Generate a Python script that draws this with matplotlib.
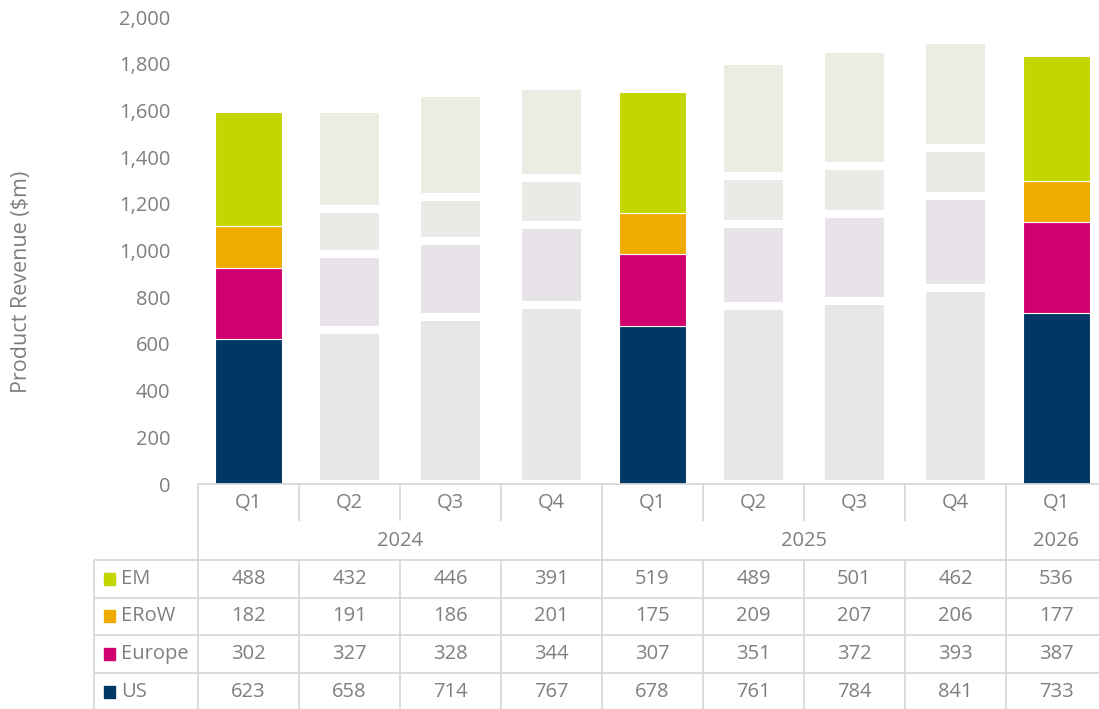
import numpy as np
import matplotlib.pyplot as plt
from matplotlib.patches import Rectangle

# ---------------- Data ----------------
quarters = ["Q1", "Q2", "Q3", "Q4", "Q1", "Q2", "Q3", "Q4", "Q1"]
years = ["2024", "2025", "2026"]
year_spans = [(0, 3), (4, 7), (8, 8)]
highlight = [0, 4, 8]

us = [623, 658, 714, 767, 678, 761, 784, 841, 733]
europe = [302, 327, 328, 344, 307, 351, 372, 393, 387]
erow = [182, 191, 186, 201, 175, 209, 207, 206, 177]
em = [488, 432, 446, 391, 519, 489, 501, 462, 536]

series_names = ["US", "Europe", "ERoW", "EM"]
series_values = [us, europe, erow, em]
colors = ["#003865", "#D0006F", "#F0AB00", "#C4D600"]
faded = ["#E6E7E9", "#E8E3E8", "#EBEAE6", "#EBEDE2"]

TEXT = "#7F7F7F"
GRID = "#D9D9D9"
FONT = "Open Sans"
FS = 14.5

W, H = 1099, 709


def main():
    plt.rcParams["font.family"] = [FONT, "DejaVu Sans"]
    fig = plt.figure(figsize=(W / 100, H / 100), dpi=100)

    # main chart area (pixel layout from the reference)
    left, right, top, bottom = 198, 1107, 17, 484
    ax = fig.add_axes([left / W, (H - bottom) / H, (right - left) / W, (bottom - top) / H])
    ax.set_xlim(-0.5, len(quarters) - 0.5)
    ax.set_ylim(0, 2000)

    x = np.arange(len(quarters))
    hl = np.isin(x, highlight)
    base = np.zeros(len(quarters))
    for name, vals, c, fc in zip(series_names, series_values, colors, faded):
        vals = np.array(vals, dtype=float)
        # faded bars: white outline leaves gaps between segments
        ax.bar(x[~hl], vals[~hl], bottom=base[~hl], width=0.66, color=fc,
               edgecolor="white", linewidth=5.8, zorder=2)
        ax.bar(x[hl], vals[hl], bottom=base[hl], width=0.66, color=c,
               edgecolor="white", linewidth=0.8, zorder=3)
        base += vals

    for s in ax.spines.values():
        s.set_visible(False)
    ax.set_xticks([])
    ax.set_yticks(np.arange(0, 2001, 200))
    ax.set_yticklabels([f"{v:,}" for v in range(0, 2001, 200)])
    ax.tick_params(axis="y", length=0, pad=20, labelsize=FS, labelcolor=TEXT)

    fig.text(22 / W, 1 - 282 / H, "Product Revenue ($m)", rotation=90,
             ha="center", va="center", fontsize=15.5, color=TEXT)

    # ---------------- Data table ----------------
    leg_left = 94
    col_w = (right - left) / len(quarters)
    tleft = -0.5 - (left - leg_left) / col_w
    tab_bottom = 711
    tax = fig.add_axes([leg_left / W, (H - tab_bottom) / H,
                        (right - leg_left) / W, (tab_bottom - bottom) / H])
    tax.set_xlim(tleft, len(quarters) - 0.5)
    tax.set_ylim(6, 0)
    tax.axis("off")

    lw = 1.3
    kw = dict(color=GRID, linewidth=lw, solid_capstyle="butt", clip_on=False)
    tax.plot([-0.5, len(quarters) - 0.5], [0, 0], **kw)
    for r in range(2, 7):
        tax.plot([tleft, len(quarters) - 0.5], [r, r], **kw)
    tax.plot([tleft, tleft], [2, 6], **kw)
    tax.plot([-0.5, -0.5], [0, 6], **kw)
    year_edges = [e + 0.5 for _, e in year_spans]
    for b in np.arange(0.5, len(quarters), 1.0):
        if b in year_edges:
            tax.plot([b, b], [0, 6], **kw)
        else:
            tax.plot([b, b], [0, 0.98], **kw)
            tax.plot([b, b], [2, 6], **kw)

    for i, q in enumerate(quarters):
        tax.text(i, 0.5, q, ha="center", va="center", fontsize=FS, color=TEXT)
    for yr, (s, e) in zip(years, year_spans):
        tax.text((s + e) / 2, 1.5, yr, ha="center", va="center", fontsize=FS, color=TEXT)

    rows = list(zip(series_names, series_values, colors))[::-1]
    sq_w = 11 / col_w
    for r, (name, vals, c) in enumerate(rows):
        yc = 2.5 + r
        tax.add_patch(Rectangle((tleft + 10 / col_w, yc - 0.16), sq_w, 0.32,
                                color=c, clip_on=False))
        tax.text(tleft + 27 / col_w, yc, name, ha="left", va="center",
                 fontsize=FS, color=TEXT)
        for i, v in enumerate(vals):
            tax.text(i, yc, str(v), ha="center", va="center", fontsize=FS, color=TEXT)

    fig.savefig("out.png", dpi=100)


if __name__ == "__main__":
    main()
